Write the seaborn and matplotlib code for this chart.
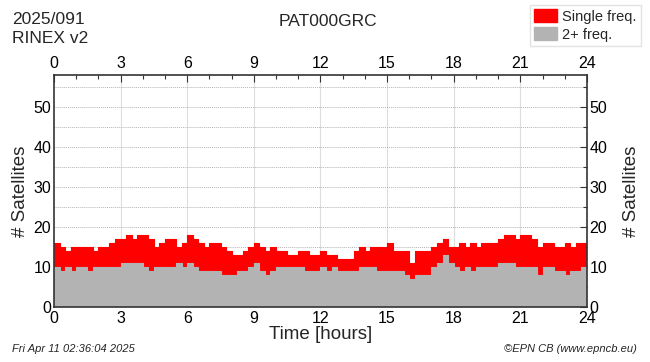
## number of tracked satellites per epoch, stacked by signal type

import numpy as np
import pandas as pd
import seaborn as sns
import matplotlib.pyplot as plt
from matplotlib.patches import Patch
from matplotlib.ticker import MultipleLocator

# quarter-hour epochs over the day
hours = np.arange(0, 24.25, 0.25)

# satellites tracked on 2+ frequencies (grey) 
n_dual = [10, 9, 10, 9, 10, 10, 9, 10, 10, 10, 10, 10,
          11, 11, 11, 11, 10, 9, 10, 10, 10, 10, 11, 10,
          11, 10, 9, 9, 9, 9, 8, 8, 8, 9, 9, 10,
          11, 9, 8, 9, 10, 10, 10, 10, 10, 9, 9, 9,
          10, 9, 10, 9, 9, 9, 9, 10, 10, 10, 9, 9,
          9, 9, 9, 8, 7, 8, 8, 8, 10, 11, 13, 11,
          10, 9, 10, 9, 10, 10, 10, 10, 11, 11, 11, 10,
          10, 10, 10, 8, 10, 10, 9, 9, 8, 9, 9, 10, 10]

# all satellites tracked (top of the red band)
n_total = [16, 15, 14, 15, 15, 15, 15, 14, 15, 15, 16, 17,
           17, 18, 17, 18, 18, 17, 15, 16, 17, 17, 15, 16,
           18, 17, 16, 15, 16, 16, 15, 14, 13, 13, 14, 15,
           16, 15, 14, 15, 14, 14, 13, 13, 14, 14, 13, 13,
           14, 13, 13, 12, 12, 12, 14, 15, 14, 15, 15, 15,
           16, 14, 14, 14, 11, 14, 14, 14, 15, 16, 17, 15,
           15, 16, 15, 16, 15, 16, 16, 16, 17, 18, 18, 17,
           18, 18, 17, 15, 16, 16, 15, 15, 16, 15, 16, 16, 16]

df = pd.DataFrame({"Time": hours, "dual": n_dual, "total": n_total})

red = "#ff0000"
grey = "#b3b3b3"

sns.set_style("white")
plt.rcParams['font.family'] = ['Liberation Sans', 'DejaVu Sans']

fig = plt.figure(figsize=(6.5, 3.62), dpi=100)
ax = fig.add_axes([0.083, 0.152, 0.820, 0.641])

ax.fill_between(df["Time"], 0, df["total"], step="post", color=red, linewidth=0)
ax.fill_between(df["Time"], 0, df["dual"], step="post", color=grey, linewidth=0)
sns.lineplot(data=df, x="Time", y="total", drawstyle="steps-post", color=red, lw=0.8, ax=ax)
sns.lineplot(data=df, x="Time", y="dual", drawstyle="steps-post", color=grey, lw=0.8, ax=ax)

ax.set_xlim(0, 24)
ax.set_ylim(0, 58)

# grid: solid verticals every 3 h, dotted horizontals every 5 sats
for h in range(3, 24, 3):
    ax.axvline(h, color="#dddddd", lw=0.8, zorder=0.5)
for s in range(5, 58, 5):
    ax.axhline(s, color="#b5b5b5", lw=0.7, ls=(0, (1, 1)), zorder=0.5)

ax.xaxis.set_major_locator(MultipleLocator(3))
ax.xaxis.set_minor_locator(MultipleLocator(1))
ax.yaxis.set_major_locator(MultipleLocator(10))
ax.yaxis.set_minor_locator(MultipleLocator(5))
ax.tick_params(which="both", direction="in", top=True, right=True,
               labeltop=True, labelright=True, colors="#333333",
               labelcolor="black", labelsize=11.5, pad=2)
ax.tick_params(axis="x", which="both", pad=3)
ax.tick_params(which="major", length=5, width=0.8)
ax.tick_params(which="minor", length=3, width=0.8)
for sp in ax.spines.values():
    sp.set_color("#333333")
    sp.set_linewidth(1.2)

ax.set_xlabel("Time [hours]", fontsize=13.5, labelpad=0)
ax.set_ylabel("# Satellites", fontsize=13.5, labelpad=3)
ax2 = ax.secondary_yaxis("right")
ax2.set_yticks([])
ax2.spines["right"].set_visible(False)
ax2.set_ylabel("# Satellites", fontsize=13.5, labelpad=26)

fig.text(0.018, 0.945, "2025/091", fontsize=12.5, va="center")
fig.text(0.018, 0.893, "RINEX v2", fontsize=12.5, va="center")
fig.text(0.505, 0.94, "PAT000GRC", fontsize=12.5, ha="center", va="center")
fig.text(0.018, 0.035, "Fri Apr 11 02:36:04 2025", fontsize=8, style="italic", va="center")
fig.text(0.98, 0.035, "\u00a9EPN CB (www.epncb.eu)", fontsize=8, style="italic",
         ha="right", va="center")

handles = [Patch(color=red, label="Single freq."), Patch(color=grey, label="2+ freq.")]
fig.legend(handles=handles, loc="upper right", bbox_to_anchor=(0.99, 0.995),
           fontsize=10.5, frameon=True, fancybox=False, edgecolor="#dddddd",
           handlelength=1.6, handleheight=1.0, handletextpad=0.3,
           labelspacing=0.25, borderpad=0.3, borderaxespad=0.2)

fig.savefig("out.png", dpi=100)
